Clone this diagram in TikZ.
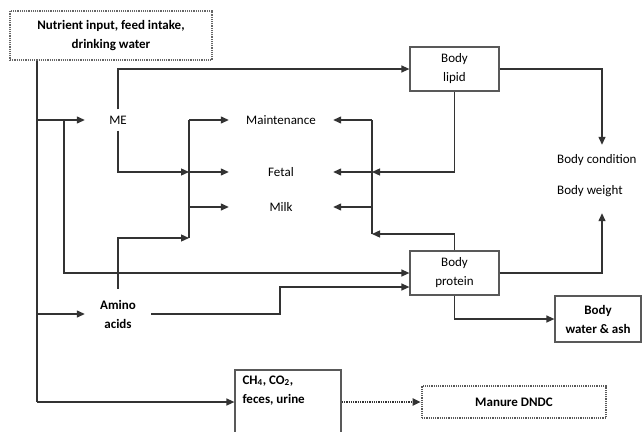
\documentclass[tikz,border=0pt]{standalone}
\usepackage{fontspec}
\setmainfont{Carlito}
\usetikzlibrary{arrows.meta}
\newcommand{\figfont}{\fontsize{13}{19}\selectfont}
\begin{document}
\begin{tikzpicture}[
        x=1pt, y=-1pt,
        font=\figfont,
        block/.style={rectangle, draw=black!65, line width=1.2pt, align=center, inner sep=2pt},
        txt/.style={rectangle, align=center, inner sep=2pt},
        bold/.style={font=\figfont\bfseries},
        line/.style={line width=1.3pt, draw=black!80},
        arrow/.style={line, -{Triangle[length=8pt,width=7pt]}},
        dotarrow/.style={arrow, densely dotted, line width=1.8pt}
    ]
        \useasboundingbox (0,0) rectangle (642,431);
        \clip (0,0) rectangle (642,431);

        % Input and output boxes
        \node[block, bold, densely dotted, draw=black!60, minimum width=202, minimum height=49] (input) at (111,35.5) {Nutrient input, feed intake,\\drinking water};
        \node[block, minimum width=89, minimum height=44] (lipid) at (454.5,69) {Body\\lipid};
        \node[block, minimum width=89, minimum height=44] (protein) at (454.5,273) {Body\\protein};
        \node[block, bold, minimum width=86, minimum height=46] (water) at (598,319) {Body\\water \& ash};
        \node[block, minimum width=106, minimum height=90] (waste) at (288,415) {};
        \node[txt, bold, align=left, anchor=north west, inner xsep=8, inner ysep=6] (wastetext) at (waste.north west) {CH\textsubscript{4}, CO\textsubscript{2},\\feces, urine};
        \node[block, bold, densely dotted, line width=2.6pt, minimum width=184, minimum height=32] (manure) at (514,402) {Manure DNDC};

        % Pools and uses
        \node[txt, minimum width=66, minimum height=21] (me) at (118,120) {ME};
        \node[txt, bold, minimum width=66, minimum height=50] (amino) at (118,314) {Amino\\acids};
        \node[txt, minimum width=104] (maint) at (281,120) {Maintenance};
        \node[txt, minimum width=104] (fetal) at (281,172) {Fetal};
        \node[txt, minimum width=104] (milk) at (281,207) {Milk};
        \node[txt, anchor=west, inner xsep=4, minimum height=30] (cond) at (553,160) {Body condition};
        \node[txt, anchor=west, inner xsep=4, minimum height=44] (weight) at (553,191) {Body weight};

        % Junction points
        \coordinate (tr) at (37,402);
        \coordinate (b2) at (64,0);
        \coordinate (b3) at (189,0);
        \coordinate (j3) at (189,238);
        \coordinate (b4) at (372,0);
        \coordinate (j4) at (372,234);
        \coordinate (c) at (602,0);
        \coordinate (k) at (280,287);

        % Arrows from the input
        \draw[line] (input.south -| tr) -- (tr);
        \draw[arrow] (tr) -- (tr -| waste.west);
        \draw[arrow] (tr |- me) -- (me.west);
        \draw[arrow] (tr |- amino) -- (amino.west);
        \draw[arrow] (b2 |- me) |- (protein.west);

        % ME and amino acids
        \draw[arrow] (me.north) |- (lipid.west);
        \draw[arrow] (me.south) |- (b3 |- fetal);
        \draw[arrow] (amino.north) |- (j3);
        \draw[line] (j3) -- (b3 |- maint);
        \foreach \u in {maint,fetal,milk}
            \draw[arrow] (b3 |- \u) -- (\u.west);
        \draw[arrow] (amino.east) -| (k) -- (k -| protein.west);

        % Body lipid and protein
        \draw[arrow] (lipid.south) |- (b4 |- fetal);
        \draw[arrow] (protein.north) |- (j4);
        \draw[line] (j4) -- (b4 |- maint);
        \foreach \u in {maint,fetal,milk}
            \draw[arrow] (b4 |- \u) -- (\u.east);
        \draw[arrow] (lipid.east) -| (c |- cond.north);
        \draw[arrow] (protein.east) -| (c |- weight.south);
        \draw[arrow] (protein.south) |- (water.west);

        % Manure
        \draw[dotarrow] (waste.east |- manure.west) -- (manure.west);
    \end{tikzpicture}
\end{document}
